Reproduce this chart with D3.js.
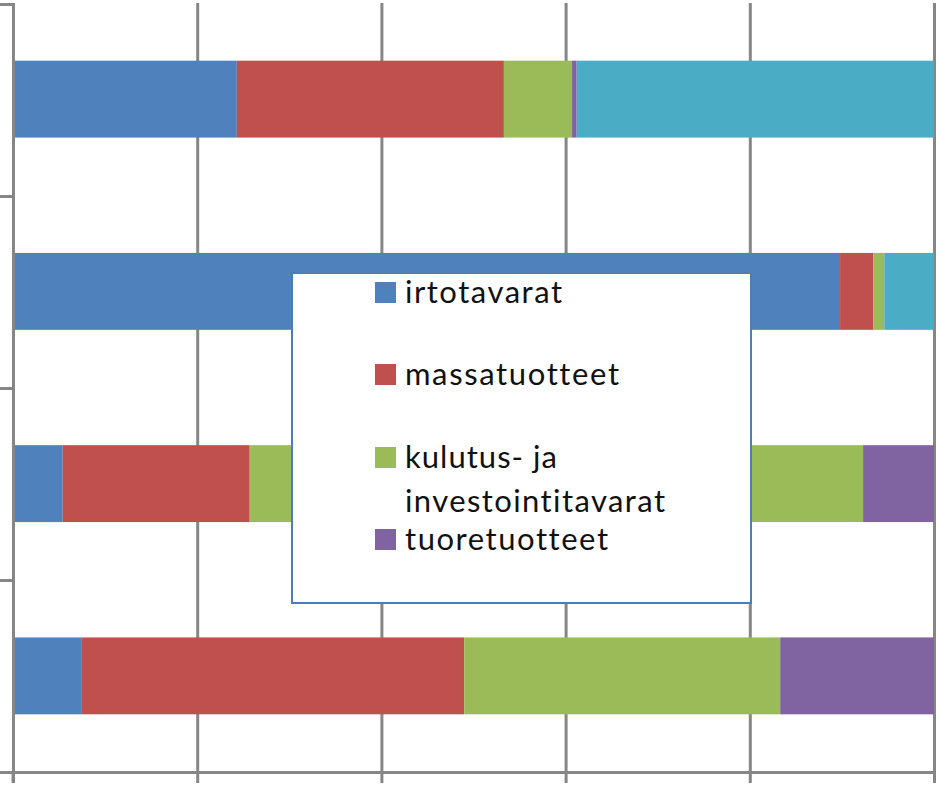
<!DOCTYPE html>
<html><head><meta charset="utf-8">
<script src="https://cdn.jsdelivr.net/npm/d3@7"></script>
<style>html,body{margin:0;padding:0;background:#fff;}svg{display:block;}text{font-variant-ligatures:none;font-feature-settings:"liga" 0,"clig" 0;}</style>
</head><body>
<svg id="c" width="940" height="787"></svg>
<script>
// Data (shares, % of each bar)
const categories = ["Luokka 1", "Luokka 2", "Luokka 3", "Luokka 4"];
const seriesNames = ["irtotavarat", "massatuotteet", "kulutus- ja investointitavarat", "tuoretuotteet", "muut"];
const irtotavarat = [24.3, 89.8, 5.4, 7.4];
const massatuotteet = [29.0, 3.6, 20.3, 41.6];
const kulutus = [7.4, 1.2, 66.6, 34.3];
const tuoretuotteet = [0.5, 0.0, 7.7, 16.7];
const muut = [38.8, 5.4, 0.0, 0.0];
const xTicks = [0, 0.2, 0.4, 0.6, 0.8, 1.0];
const colors = ["#4f81bd", "#c0504d", "#9bbb59", "#8064a2", "#4bacc6"];

(function () {
const seriesValues = [irtotavarat, massatuotteet, kulutus, tuoretuotteet, muut];
const rows = categories.map((c, i) => {
  const r = {cat: c};
  seriesNames.forEach((s, j) => r[s] = seriesValues[j][i]);
  return r;
});

const svg = d3.select("#c");
const pLeft = 13, pRight = 934, pTop = 3, pBottom = 772;
const x = d3.scaleLinear().domain([0, 1]).range([pLeft, pRight]);
const y = d3.scaleBand().domain(categories).range([3, pBottom]).paddingInner(0.6).paddingOuter(0.3);
const gridColor = "#868686";

// gridlines
const grid = svg.append("g").attr("transform", `translate(0,${pBottom})`)
  .call(d3.axisBottom(x).tickValues(xTicks).tickSize(-(pBottom - pTop)).tickFormat(""));
grid.select(".domain").remove();
grid.selectAll("line").attr("stroke", gridColor).attr("stroke-width", 3);

// stacked bars
const stack = d3.stack().keys(seriesNames).offset(d3.stackOffsetExpand);
const stacked = stack(rows);
svg.append("g").selectAll("g").data(stacked).join("g")
  .attr("fill", (d, i) => colors[i])
  .selectAll("rect").data(d => d).join("rect")
  .attr("x", d => x(d[0]))
  .attr("width", d => Math.max(0, x(d[1]) - x(d[0])))
  .attr("y", d => y(d.data.cat))
  .attr("height", y.bandwidth());

// bottom axis
const xa = svg.append("g").attr("transform", `translate(0,${pBottom})`)
  .call(d3.axisBottom(x).tickValues(xTicks).tickSize(11).tickSizeOuter(0).tickFormat(""));
xa.select(".domain").attr("stroke", gridColor).attr("stroke-width", 3);
xa.selectAll("line").attr("stroke", gridColor).attr("stroke-width", 3);

// left axis (ticks at category boundaries)
const yEdges = d3.scaleLinear().domain([0, categories.length]).range([4, pBottom]);
const ya = svg.append("g").attr("transform", `translate(${pLeft},0)`)
  .call(d3.axisLeft(yEdges).tickValues(d3.range(categories.length + 1)).tickSize(13).tickSizeOuter(0).tickFormat(""));
ya.select(".domain").attr("stroke", gridColor).attr("stroke-width", 3);
ya.selectAll("line").attr("stroke", gridColor).attr("stroke-width", 3);
svg.append("line").attr("x1", pLeft).attr("x2", pLeft).attr("y1", pBottom).attr("y2", 783)
  .attr("stroke", gridColor).attr("stroke-width", 3);

// legend
const lg = svg.append("g");
lg.append("rect").attr("x", 292).attr("y", 273).attr("width", 459).attr("height", 330)
  .attr("fill", "#fff").attr("stroke", "#4a7ebb").attr("stroke-width", 2);
const legendItems = [
  {i: 0, lines: ["irtotavarat"], base: 303, w: [157]},
  {i: 1, lines: ["massatuotteet"], base: 385, w: [214]},
  {i: 2, lines: ["kulutus- ja", "investointitavarat"], base: 468, w: [152, 260]},
  {i: 3, lines: ["tuoretuotteet"], base: 550, w: [203]}
];
legendItems.forEach(it => {
  lg.append("rect").attr("x", 375).attr("y", it.base - 21).attr("width", 21).attr("height", 21)
    .attr("fill", colors[it.i]);
  it.lines.forEach((t, k) => {
    lg.append("text").attr("x", 405).attr("y", it.base + k * 44)
      .attr("font-family", "Lato, 'Open Sans', sans-serif").attr("font-size", 31)
      .attr("fill", "#111")
      .style("font-variant-ligatures", "none")
      .attr("textLength", it.w[k]).attr("lengthAdjust", "spacing")
      .text(t);
  });
});
})();
</script>
</body></html>
